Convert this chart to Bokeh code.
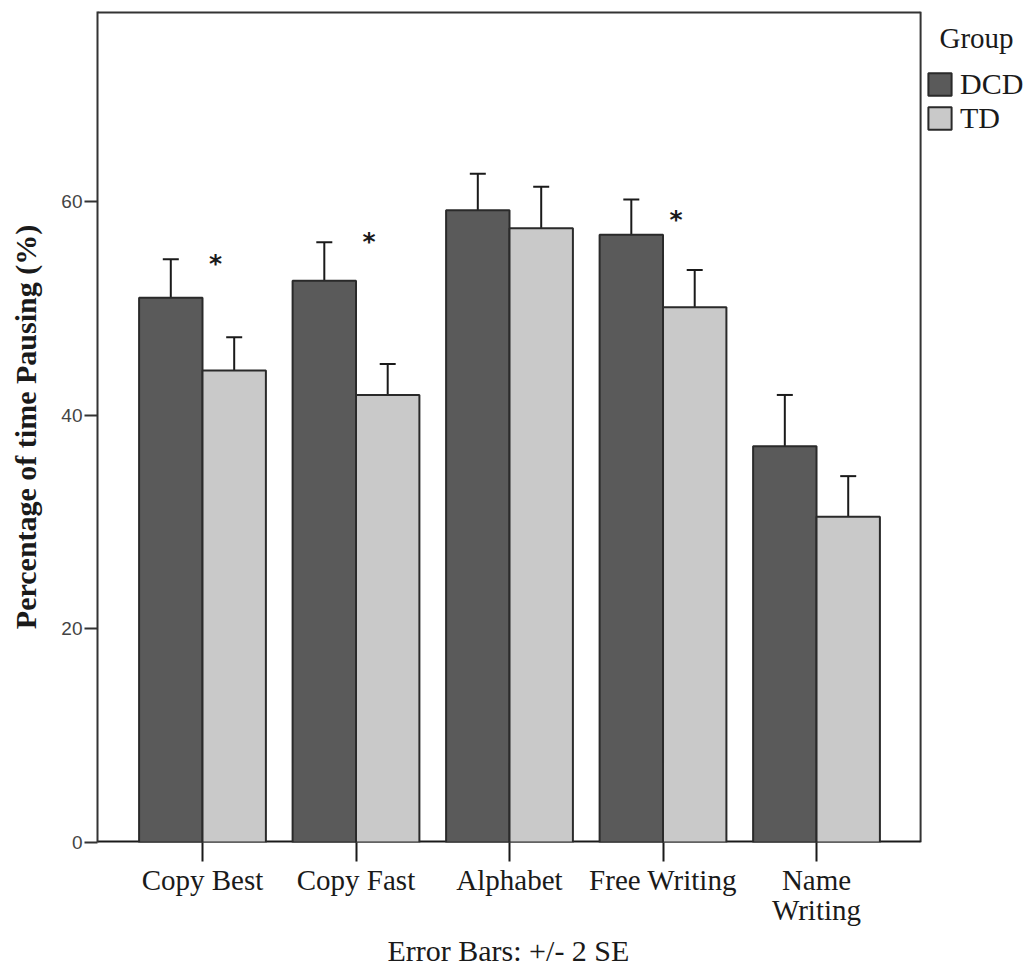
from bokeh.plotting import figure
from bokeh.models import (Range1d, FixedTicker, ColumnDataSource, Whisker, TeeHead,
                          Legend, LegendItem, Title)
from bokeh.embed import file_html
from bokeh.resources import INLINE
from bokeh.core.properties import value

# ---- data ----
categories = ["Copy Best", "Copy Fast", "Alphabet", "Free Writing", "Name\nWriting"]
dcd_mean = [51.0, 52.6, 59.2, 56.9, 37.1]
dcd_lower = [47.6, 49.1, 55.9, 53.6, 32.5]
dcd_upper = [54.6, 56.2, 62.6, 60.2, 41.9]
td_mean = [44.2, 41.9, 57.5, 50.1, 30.5]
td_lower = [41.2, 38.9, 53.6, 46.9, 26.7]
td_upper = [47.3, 44.8, 61.4, 53.6, 34.3]
significant = [True, True, False, True, False]
groups = ["DCD", "TD"]
y_ticks = [0, 20, 40, 60]

DCD_COLOR = "#5a5a5a"
TD_COLOR = "#c9c9c9"
FRAME_COLOR = "#333333"
SERIF = "Liberation Serif"

centers = [i + 1 for i in range(len(categories))]
bw = 0.413
dcd_x = [c - bw / 2 for c in centers]
td_x = [c + bw / 2 for c in centers]

# chart box (data units): x from X0 to X1, y from 0 to Y1; the canvas frame extends
# further right so that the legend can sit beside the box
X0, X1, Y1 = 0.316, 5.678, 77.8
p = figure(width=1030, height=971, output_backend="svg", toolbar_location=None,
           x_range=Range1d(X0, 6.394), y_range=Range1d(0, Y1),
           min_border_left=97, min_border_right=0, min_border_top=11, min_border_bottom=129)
p.background_fill_color = "white"
p.border_fill_color = "white"
p.outline_line_color = None
p.xgrid.visible = False
p.ygrid.visible = False

# box lines: top, right, bottom
p.line(x=[X0, X1], y=[Y1, Y1], line_color=FRAME_COLOR, line_width=4)
p.line(x=[X1, X1], y=[0, Y1], line_color=FRAME_COLOR, line_width=2)
p.line(x=[X0, X1], y=[0, 0], line_color="#1a1a1a", line_width=4)

src_d = ColumnDataSource(dict(x=dcd_x, top=dcd_mean, lower=dcd_lower, upper=dcd_upper))
src_t = ColumnDataSource(dict(x=td_x, top=td_mean, lower=td_lower, upper=td_upper))

r1 = p.vbar(x="x", top="top", bottom=0, width=bw, source=src_d,
            fill_color=DCD_COLOR, line_color="#2a2a2a", line_width=2)
r2 = p.vbar(x="x", top="top", bottom=0, width=bw, source=src_t,
            fill_color=TD_COLOR, line_color="#2a2a2a", line_width=2)

for src in (src_d, src_t):
    w = Whisker(source=src, base="x", upper="upper", lower="lower", dimension="height",
                line_color="#1a1a1a", line_width=2,
                upper_head=TeeHead(size=16, line_width=2, line_color="#1a1a1a"),
                lower_head=TeeHead(size=16, line_width=2, line_color="#1a1a1a"))
    p.add_layout(w)

# significance asterisks
star_y = [55.6, 57.6, None, 59.7, None]
sx, sy = [], []
for c, s, yy in zip(centers, significant, star_y):
    if s:
        sx.append(c + 0.085)
        sy.append(yy)
p.text(x=sx, y=sy, text=["*"] * len(sx), text_font=value("DejaVu Sans"),
       text_font_size="25px", text_font_style="bold", text_align="center",
       text_baseline="top", text_color="#1a1a1a")

# axes
p.xaxis.ticker = FixedTicker(ticks=centers)
p.xaxis.major_label_overrides = {c: lab for c, lab in zip(centers, categories)}
p.xaxis.minor_tick_line_color = None
p.xaxis.major_tick_out = 19
p.xaxis.major_tick_in = 0
p.xaxis.major_tick_line_width = 2
p.xaxis.major_tick_line_color = "#1a1a1a"
p.xaxis.axis_line_color = None
p.xaxis.major_label_text_font = SERIF
p.xaxis.major_label_text_font_size = "29px"
p.xaxis.major_label_text_line_height = 0.95
p.xaxis.major_label_text_color = "#1a1a1a"
p.xaxis.major_label_standoff = 2

p.add_layout(Title(text="Error Bars: +/- 2 SE", align="left", offset=290, standoff=6,
                   text_font=SERIF, text_font_size="30px", text_font_style="normal",
                   text_color="#1a1a1a"), "below")

p.yaxis.ticker = FixedTicker(ticks=y_ticks)
p.yaxis.minor_tick_line_color = None
p.yaxis.major_tick_out = 13
p.yaxis.major_tick_in = 0
p.yaxis.major_tick_line_width = 2
p.yaxis.major_tick_line_color = FRAME_COLOR
p.yaxis.axis_line_color = FRAME_COLOR
p.yaxis.axis_line_width = 2
p.yaxis.major_label_text_font = "Liberation Sans"
p.yaxis.major_label_text_font_size = "19px"
p.yaxis.major_label_text_color = "#444444"
p.yaxis.major_label_standoff = 2
p.yaxis.axis_label = "Percentage of time Pausing (%)"
p.yaxis.axis_label_text_font = SERIF
p.yaxis.axis_label_text_font_size = "30px"
p.yaxis.axis_label_text_font_style = "bold"
p.yaxis.axis_label_text_color = "#1a1a1a"
p.yaxis.axis_label_standoff = 16

# legend beside the chart box
legend = Legend(items=[LegendItem(label=groups[0], renderers=[r1]),
                       LegendItem(label=groups[1], renderers=[r2])],
                title="\u00a0\u00a0Group", title_text_font=SERIF, title_text_font_size="29px",
                title_text_font_style="normal", title_text_color="#1a1a1a", title_standoff=12,
                location=(828, 707), orientation="vertical",
                glyph_width=29, glyph_height=28, label_standoff=6, spacing=0,
                padding=0, margin=0, border_line_color=None, background_fill_alpha=0,
                label_text_font=SERIF, label_text_font_size="30px", label_text_color="#1a1a1a")
p.add_layout(legend, "center")

open("out.html", "w").write(file_html(p, INLINE))
